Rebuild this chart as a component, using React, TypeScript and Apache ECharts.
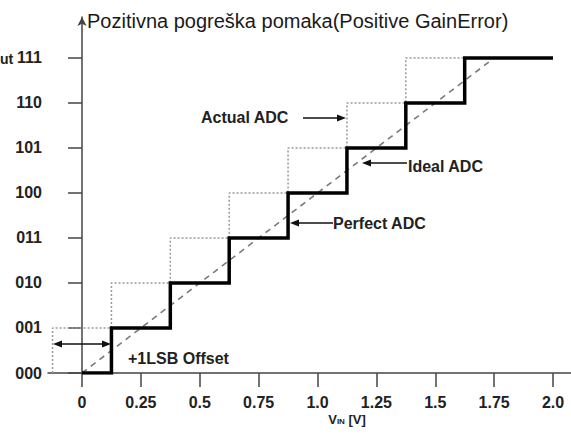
import React, { useEffect, useRef } from "react";
import * as echarts from "echarts";

// ---- data ----
const xTicks = [0, 0.25, 0.5, 0.75, 1.0, 1.25, 1.5, 1.75, 2.0];
const xTickLabels = ["0", "0.25", "0.5", "0.75", "1.0", "1.25", "1.5", "1.75", "2.0"];
const yCodes = [0, 1, 2, 3, 4, 5, 6, 7];
const yTickLabels = ["000", "001", "010", "011", "100", "101", "110", "111"];

// Perfect ADC (solid staircase): transition voltages and output codes
const perfectX = [0, 0.125, 0.375, 0.625, 0.875, 1.125, 1.375, 1.625, 2.0];
const perfectCodes = [0, 1, 2, 3, 4, 5, 6, 7, 7];

// Actual ADC (dotted staircase, +1 LSB offset)
const actualX = [-0.125, 0.125, 0.375, 0.625, 0.875, 1.125, 1.375, 1.625];
const actualCodes = [0, 1, 2, 3, 4, 5, 6, 7];

// Ideal ADC (dashed straight line)
const idealX = [0, 1.75];
const idealCodes = [0, 7];

const titleText = "Pozitivna pogreška pomaka(Positive GainError)";

const FONT = "'Liberation Sans', Arial, Helvetica, sans-serif";

function arrowHead(tipX: number, tipY: number, dir: number) {
  // dir: 1 = pointing right, -1 = pointing left
  const len = 9;
  const half = 3.5;
  return {
    type: "polygon",
    shape: {
      points: [
        [tipX, tipY],
        [tipX - dir * len, tipY - half],
        [tipX - dir * len, tipY + half],
      ],
    },
    style: { fill: "#111" },
    z: 10,
  };
}

function hLine(x1: number, x2: number, y: number) {
  return {
    type: "line",
    shape: { x1, y1: y, x2, y2: y },
    style: { stroke: "#111", lineWidth: 1.5 },
    z: 10,
  };
}

function label(text: string, x: number, y: number, align = "left") {
  return {
    type: "text",
    x,
    y,
    style: {
      text,
      fontFamily: FONT,
      fontSize: 16,
      fontWeight: "bold",
      fill: "#222",
      textAlign: align,
      textVerticalAlign: "middle",
    },
    z: 10,
  };
}

export default function App() {
  const ref = useRef<HTMLDivElement>(null);

  useEffect(() => {
    if (!ref.current) return;
    const chart = echarts.init(ref.current, undefined, { renderer: "svg" });

    const axisColor = "#444";

    chart.setOption({
      animation: false,
      backgroundColor: "#fff",
      grid: {
        left: 48,
        right: 0,
        top: 17,
        bottom: 64,
        containLabel: false,
        outerBoundsMode: "none",
      },
      xAxis: {
        type: "value",
        min: -0.1444,
        max: 2.0764,
        splitLine: { show: false },
        axisLine: { show: true, onZero: true, lineStyle: { color: axisColor, width: 1.5 } },
        axisTick: {
          show: true,
          customValues: xTicks,
          length: 14,
          lineStyle: { color: axisColor, width: 1.5 },
        },
        axisLabel: {
          customValues: xTicks,
          margin: 21,
          fontFamily: FONT,
          fontSize: 16,
          fontWeight: "bold",
          color: "#222",
          formatter: (v: number) => {
            let best = 0;
            xTicks.forEach((t, i) => {
              if (Math.abs(t - v) < Math.abs(xTicks[best] - v)) best = i;
            });
            return xTickLabels[best];
          },
        },
      },
      yAxis: {
        type: "value",
        min: 0,
        max: 7.911,
        splitLine: { show: false },
        axisLine: {
          show: true,
          onZero: true,
          symbol: ["none", "arrow"],
          symbolSize: [7, 9],
          lineStyle: { color: axisColor, width: 1.5 },
        },
        axisTick: {
          show: true,
          customValues: yCodes,
          length: 14,
          lineStyle: { color: axisColor, width: 1.5 },
        },
        axisLabel: {
          customValues: yCodes,
          margin: 6,
          padding: [8, 0, 0, 0],
          fontFamily: FONT,
          fontSize: 16,
          fontWeight: "bold",
          color: "#222",
          formatter: (v: number) => yTickLabels[Math.round(v)],
        },
      },
      series: [
        {
          name: "Actual ADC",
          type: "line",
          step: "start",
          symbol: "none",
          data: actualX.map((x, i) => [x, actualCodes[i]]),
          lineStyle: { color: "#999", width: 1.5, type: [2, 2] },
          z: 2,
        },
        {
          name: "Ideal ADC",
          type: "line",
          symbol: "none",
          data: idealX.map((x, i) => [x, idealCodes[i]]),
          lineStyle: { color: "#7a7a7a", width: 1.6, type: [6, 5] },
          z: 3,
        },
        {
          name: "Perfect ADC",
          type: "line",
          step: "end",
          symbol: "none",
          data: perfectX.map((x, i) => [x, perfectCodes[i]]),
          lineStyle: { color: "#000", width: 3.5, join: "miter" },
          z: 4,
        },
      ],
      graphic: [
        {
          type: "text",
          x: 87,
          y: 21,
          style: {
            text: titleText,
            fontFamily: FONT,
            fontSize: 20,
            fill: "#1a1a1a",
            textAlign: "left",
            textVerticalAlign: "middle",
          },
        },
        {
          type: "text",
          x: 0,
          y: 59,
          style: {
            text: "ut",
            fontFamily: FONT,
            fontSize: 14,
            fontWeight: "bold",
            fill: "#222",
            textAlign: "left",
            textVerticalAlign: "middle",
          },
        },
        {
          type: "text",
          x: 347,
          y: 419,
          style: {
            text: "{v|V}{s|IN}{v| [V]}",
            rich: {
              v: { fontFamily: FONT, fontSize: 13, fontWeight: "bold", fill: "#222" },
              s: { fontFamily: FONT, fontSize: 8, fontWeight: "bold", fill: "#222", verticalAlign: "bottom" },
            },
            textAlign: "center",
            textVerticalAlign: "middle",
          },
        },
        label("Actual ADC", 201, 117),
        hLine(303, 340, 118),
        arrowHead(346, 118, 1),
        label("Ideal ADC", 408, 166),
        hLine(368, 407, 163),
        arrowHead(362, 163, -1),
        label("Perfect ADC", 333, 223),
        hLine(296, 333, 223),
        arrowHead(290, 223, -1),
        label("+1LSB Offset", 128, 358),
        hLine(58, 106, 344),
        arrowHead(53, 344, -1),
        arrowHead(111, 344, 1),
      ],
    });

    return () => chart.dispose();
  }, []);

  return (
    <div
      ref={ref}
      style={{ position: "fixed", left: 0, top: 0, width: 571, height: 437, background: "#fff" }}
    />
  );
}
